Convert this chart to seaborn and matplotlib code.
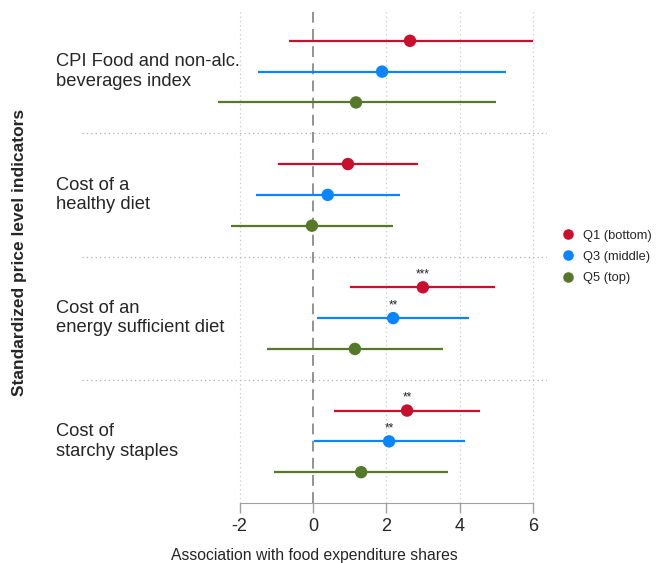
import pandas as pd
import seaborn as sns
import matplotlib.pyplot as plt
from matplotlib.transforms import blended_transform_factory

# DATA
indicators = ['CPI Food and non-alc.\nbeverages index', 'Cost of a\nhealthy diet',
              'Cost of an\nenergy sufficient diet', 'Cost of\nstarchy staples']
quintiles = ['Q1 (bottom)', 'Q3 (middle)', 'Q5 (top)']
estimates = [[2.64, 1.88, 1.17],
             [0.95, 0.40, -0.03],
             [2.99, 2.18, 1.14],
             [2.56, 2.07, 1.31]]
ci_low = [[-0.65, -1.50, -2.60],
          [-0.95, -1.55, -2.23],
          [1.00, 0.10, -1.25],
          [0.57, 0.03, -1.06]]
ci_high = [[6.00, 5.25, 4.98],
           [2.86, 2.37, 2.18],
           [4.95, 4.24, 3.54],
           [4.55, 4.14, 3.67]]
stars = [['', '', ''],
         ['', '', ''],
         ['***', '**', ''],
         ['**', '**', '']]
colors = ['#c8102e', '#0a84ff', '#55782a']

rows = []
for i, ind in enumerate(indicators):
    for j, q in enumerate(quintiles):
        rows.append({'indicator': ind, 'quintile': q, 'est': estimates[i][j],
                     'lo': ci_low[i][j], 'hi': ci_high[i][j], 'stars': stars[i][j],
                     'pos': i * 4 + j})
df = pd.DataFrame(rows)

sns.set_style('white')
plt.rcParams['font.family'] = ['Liberation Sans', 'DejaVu Sans']

fig = plt.figure(figsize=(6.56, 5.63), dpi=100)
ax = fig.add_axes([82 / 656, 60 / 563, 465 / 656, 493 / 563])

# grid + reference lines
for xv in [-2, 2, 4, 6]:
    ax.axvline(xv, color='#c8c8c8', lw=0.9, ls=(0, (1, 2.5)), zorder=0)
for yv in [3, 7, 11]:
    ax.axhline(yv, color='#b0b0b0', lw=0.9, ls=(0, (1, 2.5)), zorder=0)
ax.axvline(0, color='#8a8a8a', lw=1.3, ls=(0, (6, 3.5)), zorder=1)

# confidence intervals
for q, c in zip(quintiles, colors):
    sub = df[df['quintile'] == q]
    ax.hlines(sub['pos'], sub['lo'], sub['hi'], color=c, lw=1.6, zorder=2)

sns.scatterplot(data=df, x='est', y='pos', hue='quintile', palette=colors,
                hue_order=quintiles, s=80, edgecolor='none', zorder=3, ax=ax)

for _, r in df.iterrows():
    if r['stars']:
        ax.annotate(r['stars'], (r['est'], r['pos']), xytext=(0, 5),
                    textcoords='offset points', ha='center', va='bottom', fontsize=8.5)

ax.set_xlim(-6.29, 6.37)
ax.set_ylim(15, -1)
ax.set_yticks([])
ax.set_xticks([-2, 0, 2, 4, 6])
ax.set_xticklabels(['-2', '0', '2', '4', '6'], fontsize=13)
ax.tick_params(axis='x', length=7, width=1, color='#a0a0a0', pad=4, bottom=True)
for s in ['top', 'right', 'left']:
    ax.spines[s].set_visible(False)
ax.spines['bottom'].set_color('#a0a0a0')
ax.spines['bottom'].set_bounds(-2, 6)
ax.set_xlabel('Association with food expenditure shares', fontsize=11.3, labelpad=9)
ax.set_ylabel('')

# category labels on the left
trans = blended_transform_factory(fig.transFigure, ax.transData)
for i, ind in enumerate(indicators):
    ax.text(56 / 656, i * 4 + 1, ind, transform=trans, ha='left', va='center',
            fontsize=13.2, linespacing=1.2)

fig.text(20 / 656, 1 - 252 / 563, 'Standardized price level indicators', rotation=90,
         ha='center', va='center', fontsize=12.5, fontweight='bold')

leg = ax.legend(title=None, frameon=False, loc='center left',
                bbox_to_anchor=(543 / 656, 1 - 257 / 563), bbox_transform=fig.transFigure,
                fontsize=9.3, handletextpad=0.2, labelspacing=0.7, markerscale=0.85)

plt.savefig('out.png', dpi=100, facecolor='white')
